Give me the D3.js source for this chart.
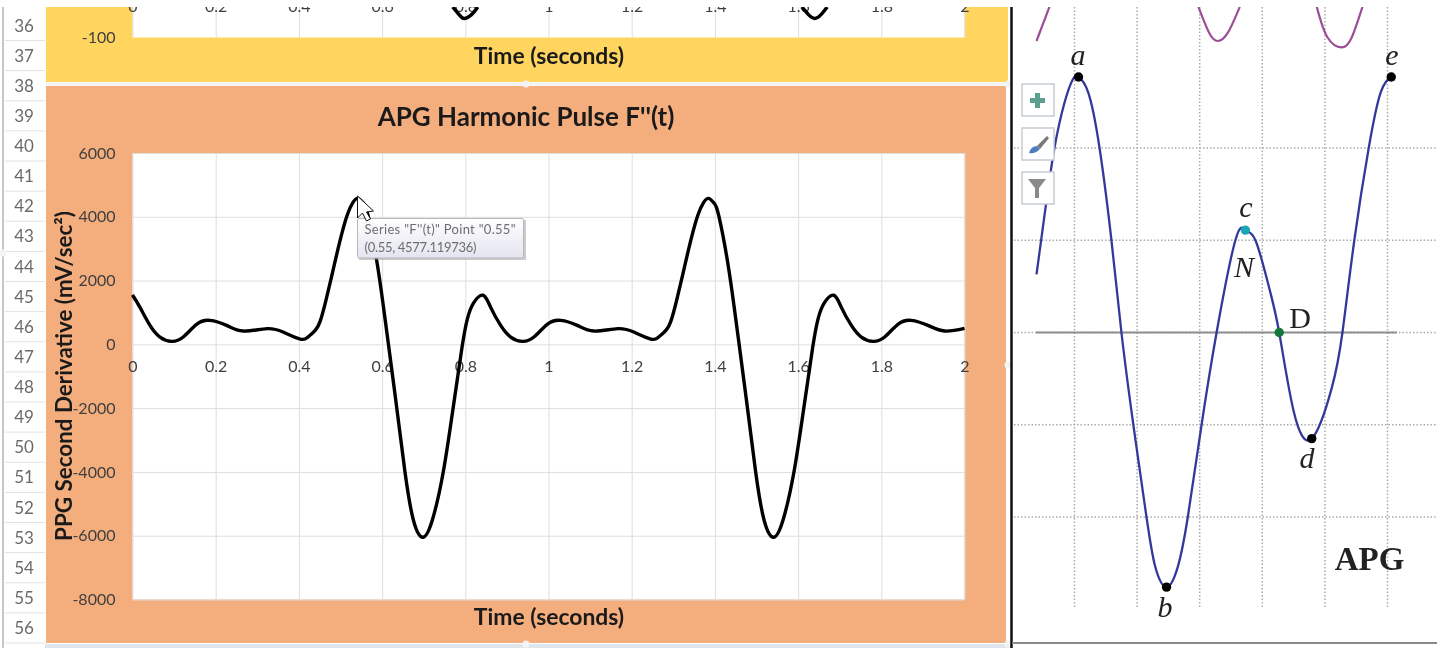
<!DOCTYPE html>
<html>
<head>
<meta charset="utf-8">
<script src="https://cdn.jsdelivr.net/npm/d3@7"></script>
<style>
  html, body { margin: 0; padding: 0; background: #fff; }
  svg { display: block; filter: blur(0.45px); }
  text { font-family: Lato, "Open Sans", sans-serif; }
  .serif { font-family: "Liberation Serif", serif; }
  .tick text { fill: #3f3f3f; font-size: 16px; }
  .tick line { stroke: #dedede; }
</style>
</head>
<body>
<script>
// row numbers of the sheet behind the charts
var rowNumbers = d3.range(36, 57);

// APG harmonic pulse
var pulseTime = [0, 0.018, 0.042, 0.066, 0.094, 0.122, 0.154, 0.186, 0.226, 0.266, 0.323, 0.362, 0.403, 0.42, 0.431, 0.441, 0.451, 0.465, 0.482, 0.499,
  0.516, 0.53, 0.542, 0.555, 0.566, 0.587, 0.603, 0.615, 0.635, 0.655, 0.675, 0.698, 0.721, 0.747, 0.771, 0.792, 0.805, 0.82,
  0.843, 0.861, 0.885, 0.909, 0.937, 0.965, 0.997, 1.029, 1.069, 1.109, 1.166, 1.205, 1.246, 1.263, 1.274, 1.284, 1.294, 1.308, 1.325, 1.342,
  1.359, 1.373, 1.385, 1.398, 1.409, 1.43, 1.446, 1.458, 1.478, 1.498, 1.518, 1.541, 1.564, 1.59, 1.614, 1.635, 1.648, 1.663,
  1.686, 1.704, 1.728, 1.752, 1.78, 1.808, 1.84, 1.872, 1.912, 1.952, 2];
var pulseValue = [1550, 1160, 595, 230, 94, 230, 627, 752, 595, 417, 492, 386, 166, 210, 330, 470, 720, 1380, 2320, 3260,
  4050, 4450, 4577, 4430, 4050, 2630, 1200, 30, -1970, -4000, -5500, -6050, -5500, -4000, -1970, -100, 800, 1300,
  1540, 1160, 595, 230, 94, 230, 627, 752, 595, 417, 492, 386, 166, 210, 330, 470, 720, 1380, 2320, 3260,
  4050, 4450, 4577, 4430, 4050, 2630, 1200, 30, -1970, -4000, -5500, -6050, -5500, -4000, -1970, -100, 800, 1300,
  1540, 1160, 595, 230, 94, 230, 627, 752, 595, 417, 500];

// the two bits of the chart above that still show
var upperTimeA = [0.77, 0.785, 0.797, 0.815, 0.83];
var upperTimeB = [1.609, 1.625, 1.64, 1.655, 1.67];
var upperValue = [-44, -58, -65, -58, -44];

var xTicks = [0, 0.2, 0.4, 0.6, 0.8, 1, 1.2, 1.4, 1.6, 1.8, 2];
var yTicks = [6000, 4000, 2000, 0, -2000, -4000, -6000, -8000];

// APG sketch on the right, in grid units
var apgU = [-0.607, -0.463, -0.32, -0.16, -0.03, 0.064, 0.22, 0.4, 0.59, 0.75, 0.94, 1.15, 1.29, 1.47, 1.65, 1.81, 2.03, 2.27, 2.57,
  2.73, 2.89, 3.1, 3.27, 3.5, 3.79, 4.11, 4.28, 4.47, 4.7, 4.89, 5.06];
var apgV = [0.63, 1.35, 2, 2.49, 2.74, 2.77, 2.6, 2, 1, 0, -1, -2, -2.54, -2.76, -2.54, -2, -1, 0, 1,
  1.11, 1, 0.51, 0, -0.85, -1.15, -0.6, 0, 1, 2, 2.6, 2.77];
var ppgPieces = [
  { u: [-0.607, -0.4], v: [3.16, 3.53] },
  { u: [1.98, 2.15, 2.29, 2.45, 2.64], v: [3.53, 3.25, 3.16, 3.25, 3.53] },
  { u: [3.87, 4.04, 4.27, 4.43, 4.6], v: [3.53, 3.2, 3.09, 3.2, 3.53] }
];
var apgPoints = [
  { name: "a", u: 0.064, v: 2.77, color: "#000" },
  { name: "b", u: 1.47, v: -2.76, color: "#000" },
  { name: "c", u: 2.73, v: 1.11, color: "#19a7b8" },
  { name: "D", u: 3.27, v: 0, color: "#14783a" },
  { name: "d", u: 3.79, v: -1.15, color: "#000" },
  { name: "e", u: 5.06, v: 2.77, color: "#000" }
];
var apgGridU = [0, 1, 2, 3, 4, 5];
var apgGridV = [2, 1, 0, -1, -2];

var svg = d3.select("body").append("svg").attr("width", 1450).attr("height", 648);

// scales
var x = d3.scaleLinear().domain([0, 2]).range([132.5, 964.5]);
var y = d3.scaleLinear().domain([-8000, 6000]).range([599.5, 153]);
var yUpper = d3.scaleLinear().domain([-100, 0]).range([37.5, -17]);
var u = d3.scaleLinear().domain([0, 5]).range([1074.5, 1387.5]);
var v = d3.scaleLinear().domain([-2, 2]).range([517, 148]);
var rowY = d3.scaleLinear().domain([36, 56]).range([25.5, 628]);

// sheet row header
svg.append("rect").attr("x", 45).attr("y", 644).attr("width", 968).attr("height", 4).attr("fill", "#dfe6ee");
svg.append("line").attr("x1", 3).attr("x2", 3).attr("y1", 7).attr("y2", 648).attr("stroke", "#b4b4b4").attr("stroke-width", 1.5);
var rows = svg.append("g");
rowNumbers.forEach(function(r) {
  rows.append("text").attr("x", 24).attr("y", rowY(r)).attr("dy", "0.36em")
    .attr("text-anchor", "middle").attr("fill", "#6a6a6a").style("font-size", "17px").text(r);
  rows.append("line").attr("x1", 5).attr("x2", 45)
    .attr("y1", rowY(r) + 15).attr("y2", rowY(r) + 15).attr("stroke", "#e2e2e2");
});

// chart panels
svg.append("rect").attr("x", 46).attr("y", 0).attr("width", 962).attr("height", 82).attr("fill", "#ffd45f");
svg.append("rect").attr("x", 46).attr("y", 86).attr("width", 960).attr("height", 557).attr("fill", "#f4ad7d");
svg.append("rect").attr("x", x(0)).attr("y", 0).attr("width", x(2) - x(0)).attr("height", yUpper(-100)).attr("fill", "#fff");
svg.append("rect").attr("x", x(0)).attr("y", y(6000)).attr("width", x(2) - x(0)).attr("height", y(-8000) - y(6000)).attr("fill", "#fff");

// upper chart grid and axes
svg.append("g").attr("transform", "translate(0," + yUpper(-100) + ")")
  .call(d3.axisBottom(x).tickValues(xTicks).tickSize(-60).tickFormat(""))
  .call(function(g) { g.select(".domain").remove(); });
svg.append("g").attr("transform", "translate(0," + yUpper(0) + ")")
  .call(d3.axisBottom(x).tickValues(xTicks).tickSize(0).tickPadding(18).tickFormat(String))
  .call(function(g) { g.select(".domain").remove(); });
svg.append("g").attr("transform", "translate(" + x(0) + ",0)")
  .call(d3.axisLeft(yUpper).tickValues([-100]).tickSize(0).tickPadding(17).tickFormat(String))
  .call(function(g) { g.select(".domain").remove(); });

var upperLine = d3.line().x(function(d) { return x(d[0]); }).y(function(d) { return yUpper(d[1]); }).curve(d3.curveNatural);
[upperTimeA, upperTimeB].forEach(function(times) {
  svg.append("path").datum(d3.zip(times, upperValue)).attr("d", upperLine)
    .attr("fill", "none").attr("stroke", "#000").attr("stroke-width", 3.5);
});

// lower chart grid
svg.append("g").attr("transform", "translate(0," + y(-8000) + ")")
  .call(d3.axisBottom(x).tickValues(xTicks).tickSize(-(y(-8000) - y(6000))).tickFormat(""))
  .call(function(g) { g.select(".domain").remove(); });
svg.append("g").attr("transform", "translate(" + x(0) + ",0)")
  .call(d3.axisLeft(y).tickValues(yTicks).tickSizeInner(-(x(2) - x(0))).tickSizeOuter(0).tickPadding(17).tickFormat(String))
  .call(function(g) { g.select(".domain").remove(); });
svg.append("g").attr("transform", "translate(0," + y(0) + ")")
  .call(d3.axisBottom(x).tickValues(xTicks).tickSize(0).tickPadding(16).tickFormat(String))
  .call(function(g) { g.select(".domain").remove(); });

// the pulse
var line = d3.line().x(function(d) { return x(d[0]); }).y(function(d) { return y(d[1]); }).curve(d3.curveNatural);
svg.append("path").datum(d3.zip(pulseTime, pulseValue)).attr("d", line)
  .attr("fill", "none").attr("stroke", "#000").attr("stroke-width", 3.4).attr("stroke-linejoin", "round");

// chart titles
svg.append("text").attr("x", 526).attr("y", 126).attr("text-anchor", "middle")
  .attr("font-weight", 700).attr("fill", "#1a1a1a").style("font-size", "26px").text("APG Harmonic Pulse F''(t)");
[64, 625].forEach(function(ty) {
  svg.append("text").attr("x", 549).attr("y", ty).attr("text-anchor", "middle")
    .attr("font-weight", 700).attr("fill", "#1a1a1a").style("font-size", "22.9px").text("Time (seconds)");
});
svg.append("text").attr("transform", "translate(72,376) rotate(-90)").attr("text-anchor", "middle")
  .attr("font-weight", 700).attr("fill", "#1a1a1a").style("font-size", "22.4px").text("PPG Second Derivative (mV/sec²)");

// tooltip
var defs = svg.append("defs");
var grad = defs.append("linearGradient").attr("id", "tipFill").attr("x1", 0).attr("x2", 0).attr("y1", 0).attr("y2", 1);
grad.append("stop").attr("offset", 0).attr("stop-color", "#ffffff");
grad.append("stop").attr("offset", 1).attr("stop-color", "#e3e4f0");
svg.append("rect").attr("x", 359).attr("y", 220).attr("width", 167).attr("height", 40).attr("fill", "#9a9a9a").attr("opacity", 0.5);
svg.append("rect").attr("x", 357.5).attr("y", 218.5).attr("width", 166).attr("height", 39.5).attr("rx", 1.5)
  .attr("fill", "url(#tipFill)").attr("stroke", "#b8b8b8");
svg.append("text").attr("x", 364.5).attr("y", 234).attr("fill", "#6e6e6e").attr("textLength", 151).style("font-size", "13px").text("Series \"F''(t)\" Point \"0.55\"");
svg.append("text").attr("x", 364.5).attr("y", 252).attr("fill", "#6e6e6e").attr("textLength", 112).style("font-size", "13px").text("(0.55, 4577.119736)");

// mouse pointer
svg.append("path").attr("transform", "translate(357.5,196)")
  .attr("d", "M0,0 L0,22 L5,17 L9,25 L13,23 L9,16 L16,15 Z")
  .attr("fill", "#fff").attr("stroke", "#111").attr("stroke-width", 1);

// sheet selection handles
[[526, 84], [1008, 84], [1008, 365], [526, 644], [1008, 644], [3, 253]].forEach(function(p) {
  svg.append("circle").attr("cx", p[0]).attr("cy", p[1]).attr("r", 3.5).attr("fill", "#f4f4f4");
});
svg.append("line").attr("x1", 46).attr("x2", 1008).attr("y1", 84).attr("y2", 84).attr("stroke", "#f2f2f2").attr("stroke-width", 3);

// right hand figure
svg.append("line").attr("x1", 1011.5).attr("x2", 1011.5).attr("y1", 7).attr("y2", 648).attr("stroke", "#111").attr("stroke-width", 2.5);
svg.append("line").attr("x1", 1012).attr("x2", 1437).attr("y1", 643).attr("y2", 643).attr("stroke", "#8a8a8a").attr("stroke-width", 2);

var fig = svg.append("g");
apgGridU.forEach(function(d) {
  fig.append("line").attr("x1", u(d)).attr("x2", u(d)).attr("y1", 7).attr("y2", 608)
    .attr("stroke", "#aaa").attr("stroke-width", 1.5).attr("stroke-dasharray", "1.5 2");
});
apgGridV.forEach(function(d) {
  fig.append("line").attr("x1", 1014).attr("x2", 1437).attr("y1", v(d)).attr("y2", v(d))
    .attr("stroke", "#aaa").attr("stroke-width", 1.5).attr("stroke-dasharray", "1.5 2");
});
fig.append("line").attr("x1", 1036).attr("x2", 1397).attr("y1", v(0)).attr("y2", v(0))
  .attr("stroke", "#8f8f8f").attr("stroke-width", 2);

var apgLine = d3.line().x(function(d) { return u(d[0]); }).y(function(d) { return v(d[1]); }).curve(d3.curveNatural);
ppgPieces.forEach(function(piece) {
  fig.append("path").datum(d3.zip(piece.u, piece.v)).attr("d", apgLine)
    .attr("fill", "none").attr("stroke", "#9c4f98").attr("stroke-width", 2.2);
});
fig.append("path").datum(d3.zip(apgU, apgV)).attr("d", apgLine)
  .attr("fill", "none").attr("stroke", "#34389a").attr("stroke-width", 2.3);

fig.selectAll("circle.pt").data(apgPoints).enter().append("circle").attr("class", "pt")
  .attr("cx", function(d) { return u(d.u); })
  .attr("cy", function(d) { return v(d.v); })
  .attr("r", 4.7).attr("fill", function(d) { return d.color; });

// letters on the figure
var letters = [["a", 1078, 65], ["e", 1392, 65], ["c", 1246, 217], ["N", 1244, 277], ["d", 1307, 468], ["b", 1165, 617]];
letters.forEach(function(l) {
  fig.append("text").attr("class", "serif").attr("x", l[1]).attr("y", l[2]).attr("text-anchor", "middle")
    .attr("font-style", "italic").attr("fill", "#222").style("font-size", "30px").text(l[0]);
});
fig.append("text").attr("class", "serif").attr("x", 1300).attr("y", 328).attr("text-anchor", "middle")
  .attr("fill", "#222").style("font-size", "30px").text("D");
fig.append("text").attr("class", "serif").attr("x", 1369.5).attr("y", 570).attr("text-anchor", "middle")
  .attr("font-weight", 700).attr("fill", "#222").style("font-size", "33px").text("APG");

// excel chart buttons
[84, 128, 172].forEach(function(by) {
  svg.append("rect").attr("x", 1022).attr("y", by).attr("width", 32).attr("height", 32)
    .attr("fill", "#fff").attr("stroke", "#c6cdd3").attr("stroke-width", 1.5);
});
svg.append("path").attr("d", "M1035,93 h5 v5 h5 v5 h-5 v5 h-5 v-5 h-5 v-5 h5 Z").attr("fill", "#5b9f8c");
svg.append("path").attr("d", "M1029,153 q2,-7 8,-7 l3,3 q-4,5 -11,4 Z").attr("fill", "#4e7cc0");
svg.append("path").attr("d", "M1037,146 l10,-10 l2,2 l-9,11 Z").attr("fill", "#777");
svg.append("path").attr("d", "M1028,179 h18 l-7,9 v10 h-4 v-10 Z").attr("fill", "#8a8a8a");

// white strip along the top of the screenshot
svg.append("rect").attr("x", 0).attr("y", 0).attr("width", 1450).attr("height", 7).attr("fill", "#fff");
</script>
</body>
</html>
